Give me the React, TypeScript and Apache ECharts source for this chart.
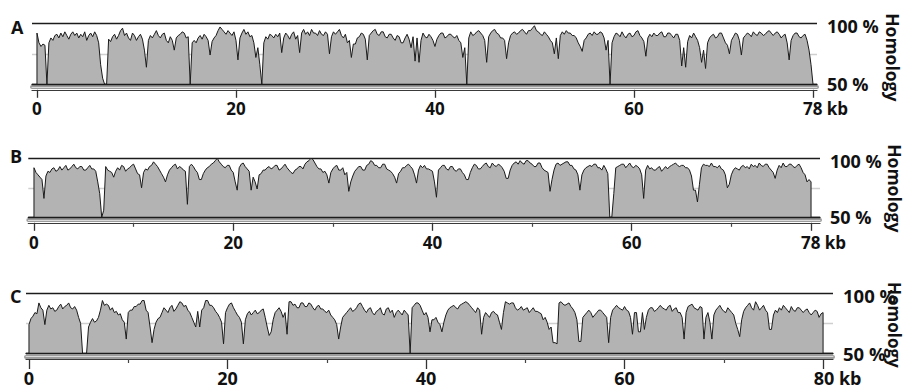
import React, { useEffect, useRef } from 'react';
import * as echarts from 'echarts';

// ---------- data ----------
const STEP_KB = 0.2;
const panelLetters = ['A', 'B', 'C'];
const genomeLengthKb = [78, 78, 80];
const majorTicksAB = [0, 20, 40, 60, 78];
const majorTicksC = [0, 20, 40, 60, 80];
const minorTicks = [10, 30, 50, 70];
const homologyTicks = [50, 100];
const yAxisTitle = 'Homology';

// % homology every 0.2 kb (one row = 2 kb)
const homologyA = [
  92, 84, 81, 83, 82, 50, 84, 88, 86, 90,
  91, 88, 92, 89, 93, 90, 87, 91, 93, 90,
  92, 88, 91, 89, 93, 86, 90, 92, 89, 93,
  90, 84, 66, 55, 50, 50, 87, 85, 89, 91,
  87, 90, 94, 96, 90, 92, 88, 86, 92, 90,
  86, 89, 91, 87, 78, 64, 86, 90, 88, 91,
  94, 90, 88, 91, 92, 86, 84, 89, 86, 78,
  88, 90, 91, 93, 92, 88, 89, 50, 84, 86,
  84, 88, 90, 87, 91, 89, 86, 74, 85, 88,
  90, 94, 97, 95, 93, 91, 94, 92, 90, 93,
  86, 70, 88, 92, 95, 91, 93, 89, 90, 84,
  72, 80, 66, 50, 84, 89, 87, 91, 90, 88,
  91, 89, 92, 76, 88, 92, 90, 87, 91, 93,
  87, 90, 76, 92, 95, 91, 93, 90, 95, 92,
  92, 90, 94, 91, 90, 93, 91, 75, 89, 93,
  91, 93, 95, 90, 88, 91, 84, 86, 72, 83,
  83, 88, 89, 92, 91, 87, 70, 90, 92, 94,
  95, 91, 90, 93, 93, 89, 88, 91, 91, 88,
  86, 90, 89, 84, 84, 88, 91, 87, 80, 89,
  69, 88, 68, 86, 92, 89, 88, 91, 89, 86,
  81, 87, 90, 92, 92, 88, 89, 91, 91, 89,
  88, 90, 86, 84, 72, 80, 50, 88, 93, 90,
  91, 93, 94, 92, 90, 86, 68, 89, 92, 94,
  95, 92, 91, 88, 88, 86, 71, 84, 90, 92,
  93, 91, 92, 94, 95, 93, 91, 94, 94, 96,
  98, 94, 93, 91, 90, 93, 91, 89, 86, 84,
  75, 88, 71, 90, 93, 91, 94, 92, 92, 90,
  90, 88, 84, 81, 77, 86, 88, 91, 92, 90,
  93, 91, 91, 93, 92, 88, 78, 86, 50, 84,
  89, 92, 91, 89, 93, 90, 88, 91, 92, 89,
  90, 93, 94, 90, 88, 85, 73, 88, 91, 89,
  92, 90, 90, 92, 93, 89, 89, 92, 92, 90,
  88, 91, 91, 86, 65, 80, 64, 85, 90, 88,
  92, 89, 86, 80, 68, 78, 63, 84, 88, 90,
  91, 88, 89, 92, 92, 88, 84, 82, 75, 86,
  89, 92, 91, 86, 74, 88, 90, 92, 91, 89,
  93, 91, 90, 93, 92, 90, 91, 93, 94, 92,
  90, 92, 93, 91, 88, 90, 91, 84, 70, 86,
  90, 92, 92, 89, 88, 90, 91, 86, 78, 66,
  50,
];

const homologyB = [
  92, 88, 86, 84, 82, 66, 85, 89, 88, 91,
  92, 89, 90, 93, 90, 92, 94, 90, 91, 93,
  95, 92, 91, 93, 93, 90, 90, 92, 94, 91,
  91, 89, 80, 70, 50, 56, 93, 90, 89, 88,
  84, 89, 92, 90, 94, 93, 89, 91, 92, 94,
  95, 91, 87, 86, 75, 88, 91, 90, 93, 94,
  97, 95, 93, 90, 87, 84, 80, 86, 90, 92,
  94, 95, 91, 93, 92, 90, 89, 61, 93, 95,
  93, 90, 88, 82, 82, 87, 90, 92, 93, 95,
  96, 98, 100, 97, 95, 93, 92, 94, 94, 90,
  88, 80, 73, 92, 95, 96, 93, 91, 89, 73,
  84, 80, 74, 86, 87, 90, 90, 92, 93, 91,
  92, 94, 94, 90, 91, 93, 95, 92, 90, 88,
  87, 90, 91, 93, 93, 91, 95, 97, 98, 100,
  99, 96, 93, 91, 91, 88, 89, 86, 79, 88,
  91, 93, 94, 90, 90, 92, 86, 88, 72, 80,
  85, 89, 91, 93, 93, 90, 90, 94, 95, 98,
  97, 94, 94, 92, 92, 95, 95, 91, 90, 89,
  87, 84, 79, 87, 89, 92, 92, 94, 95, 93,
  91, 86, 79, 90, 94, 92, 94, 91, 91, 90,
  89, 80, 67, 90, 92, 94, 94, 91, 90, 93,
  93, 90, 89, 91, 91, 88, 86, 82, 82, 88,
  92, 95, 94, 91, 91, 93, 95, 96, 93, 92,
  96, 94, 93, 95, 94, 92, 89, 83, 83, 90,
  94, 96, 97, 95, 98, 96, 95, 98, 98, 96,
  95, 93, 93, 96, 96, 92, 90, 89, 88, 72,
  82, 90, 95, 96, 94, 95, 96, 97, 97, 94,
  94, 91, 90, 86, 73, 86, 90, 92, 93, 94,
  93, 95, 95, 92, 92, 90, 94, 91, 87, 50,
  50, 70, 92, 93, 94, 95, 95, 92, 94, 96,
  93, 92, 94, 93, 91, 86, 66, 90, 94, 91,
  92, 90, 90, 92, 93, 89, 91, 93, 91, 93,
  94, 95, 96, 94, 93, 94, 94, 92, 92, 90,
  85, 73, 73, 63, 78, 92, 95, 94, 94, 93,
  96, 93, 93, 92, 94, 91, 90, 86, 75, 78,
  86, 90, 92, 91, 90, 93, 94, 92, 93, 91,
  95, 93, 94, 92, 96, 94, 93, 95, 95, 92,
  90, 88, 83, 90, 94, 92, 96, 93, 93, 95,
  95, 93, 92, 94, 95, 92, 88, 86, 80, 82,
  80,
];

const homologyC = [
  74, 79, 81, 84, 83, 92, 88, 86, 74, 86,
  90, 87, 88, 85, 86, 89, 91, 87, 89, 90,
  92, 88, 87, 89, 86, 80, 75, 50, 50, 50,
  72, 76, 79, 76, 77, 80, 86, 94, 90, 91,
  90, 86, 88, 84, 85, 82, 83, 78, 76, 62,
  84, 86, 86, 89, 89, 91, 91, 94, 94, 86,
  84, 72, 59, 70, 76, 79, 80, 84, 88, 86,
  84, 88, 90, 85, 87, 90, 93, 92, 89, 90,
  86, 84, 80, 76, 72, 85, 72, 86, 88, 94,
  94, 90, 90, 88, 85, 83, 80, 76, 58, 84,
  88, 91, 92, 88, 85, 82, 80, 76, 58, 78,
  83, 85, 82, 84, 86, 83, 84, 86, 87, 80,
  72, 65, 68, 78, 84, 86, 88, 85, 80, 84,
  66, 93, 93, 90, 91, 88, 88, 92, 92, 89,
  89, 92, 91, 88, 86, 89, 90, 87, 87, 85,
  84, 86, 82, 80, 78, 74, 62, 72, 80, 82,
  84, 86, 88, 85, 86, 88, 91, 92, 89, 86,
  84, 87, 88, 84, 82, 85, 86, 88, 83, 82,
  87, 88, 84, 86, 80, 84, 86, 84, 82, 86,
  84, 82, 50, 88, 90, 92, 92, 90, 86, 82,
  84, 80, 68, 78, 78, 80, 76, 74, 68, 76,
  82, 86, 88, 89, 90, 88, 87, 90, 91, 92,
  93, 92, 90, 88, 86, 84, 88, 86, 66, 80,
  84, 82, 80, 84, 85, 83, 82, 76, 70, 84,
  93, 92, 91, 92, 92, 88, 86, 87, 89, 86,
  87, 88, 84, 86, 88, 85, 85, 84, 83, 78,
  80, 76, 70, 72, 59, 59, 58, 92, 93, 91,
  90, 91, 92, 89, 87, 84, 78, 60, 60, 80,
  82, 84, 86, 84, 80, 82, 84, 86, 86, 84,
  82, 80, 59, 80, 86, 88, 90, 88, 87, 86,
  89, 86, 85, 80, 66, 84, 84, 68, 68, 84,
  70, 80, 86, 88, 88, 85, 86, 88, 90, 88,
  87, 86, 89, 90, 85, 87, 88, 84, 84, 80,
  62, 84, 89, 90, 91, 88, 87, 86, 89, 88,
  62, 80, 84, 76, 62, 82, 86, 88, 90, 87,
  85, 84, 88, 86, 84, 82, 75, 70, 64, 78,
  85, 88, 90, 92, 88, 86, 93, 90, 86, 88,
  90, 86, 84, 70, 70, 82, 86, 84, 88, 86,
  90, 88, 86, 84, 89, 86, 85, 88, 88, 86,
  84, 86, 87, 84, 82, 84, 86, 85, 80, 83,
  84,
];

// positions (kb) of unaligned gaps shown as white stripes
const gapsA: number[] = [];
const gapsB = [20.4];
const gapsC = [9.8, 12.4, 16.8, 17.2, 19.6, 21.6, 24.2, 24.4, 31.2, 40.4, 55.4, 58.4, 60.8, 66.0, 68.0, 68.8, 71.6];

// ---------- layout / style ----------
const FONT = 'Open Sans';
const layouts = [
  { left: 32, width: 785, top: 23.3, height: 61, min: -0.5, max: 78.4, letterLeft: 11, letterTop: 18, tickFont: 17, sideFont: 18, nameFont: 17.5, namePadLeft: 7, tickLen: 8, labelMargin: 10, nameGap: 67, kbPad: 25, minor: false },
  { left: 28.3, width: 791.7, top: 158.3, height: 59, min: -0.57, max: 78.9, letterLeft: 10, letterTop: 147, tickFont: 17, sideFont: 18, nameFont: 17.5, namePadLeft: 1, tickLen: 8, labelMargin: 11, nameGap: 66, kbPad: 25, minor: true },
  { left: 26, width: 807, top: 293.3, height: 60.2, min: -0.3, max: 81.0, letterLeft: 10, letterTop: 287, tickFont: 18, sideFont: 18.5, nameFont: 17, namePadLeft: 3, tickLen: 10, labelMargin: 10, nameGap: 53, kbPad: 29, minor: true },
];

const panels = [
  { values: homologyA, gaps: gapsA, ticks: majorTicksAB },
  { values: homologyB, gaps: gapsB, ticks: majorTicksAB },
  { values: homologyC, gaps: gapsC, ticks: majorTicksC },
];

function buildOption() {
  const grid: any[] = [];
  const xAxis: any[] = [];
  const yAxis: any[] = [];
  const series: any[] = [];
  const title: any[] = [];

  panels.forEach((p, g) => {
    const L = layouts[g];
    const len = genomeLengthKb[g];
    grid.push({
      left: L.left, top: L.top, width: L.width, height: L.height,
      containLabel: false, outerBoundsMode: 'none',
    });
    title.push({
      text: panelLetters[g], left: L.letterLeft, top: L.letterTop, padding: 0,
      textStyle: { fontFamily: FONT, fontWeight: 'bold', fontSize: 18, color: '#111' },
    });
    const base = {
      gridIndex: g, type: 'value', min: L.min, max: L.max, position: 'bottom',
      splitLine: { show: false }, axisLabel: { show: false }, axisTick: { show: false }, z: 5,
    };
    const xMain = xAxis.length;
    xAxis.push({
      ...base,
      offset: 5.5,
      axisLine: { show: true, lineStyle: { color: '#3a3a3a', width: 1.2 } },
      axisTick: { show: true, customValues: p.ticks, length: L.tickLen, lineStyle: { color: '#333', width: 1.3 } },
      axisLabel: {
        show: true, customValues: p.ticks, margin: L.labelMargin,
        fontFamily: FONT, fontWeight: 'bold', fontSize: L.tickFont, color: '#111',
        formatter: (v: number) => (v === len ? `{sp| }{kb|${v} kb}` : `${v}`),
        rich: {
          sp: { width: L.kbPad, fontSize: L.tickFont },
          kb: { fontFamily: FONT, fontWeight: 'bold', fontSize: L.tickFont, color: '#111' },
        },
      },
    });
    xAxis.push({
      ...base, offset: 5.5, axisLine: { show: false },
      axisTick: { show: L.minor, customValues: minorTicks, length: 4, lineStyle: { color: '#444', width: 1.2 } },
    });
    xAxis.push({ ...base, offset: 2.8, axisLine: { show: true, lineStyle: { color: '#9c9c9c', width: 4 } } });
    xAxis.push({ ...base, offset: 2.8, axisLine: { show: true, lineStyle: { color: '#dadada', width: 1 } } });
    xAxis.push({ ...base, offset: 0, axisLine: { show: true, lineStyle: { color: '#1c1c1c', width: 1.3 } } });

    yAxis.push({
      gridIndex: g, type: 'value', min: 50, max: 100, interval: 25, position: 'right',
      axisLine: { show: false }, axisTick: { show: false },
      splitLine: { show: true, lineStyle: { color: ['#1c1c1c', '#cfcfcf', '#1c1c1c'], width: 1.3 } },
      axisLabel: {
        customValues: homologyTicks, margin: 10,
        fontFamily: FONT, fontWeight: 'bold', fontSize: L.sideFont, color: '#111',
        formatter: (v: number) => (v === 100 ? `{hi|${v} %}` : `${v} %`),
        rich: { hi: { fontFamily: FONT, fontWeight: 'bold', fontSize: L.sideFont, color: '#111', padding: [5, 0, 0, 0] } },
      },
      name: yAxisTitle, nameLocation: 'middle', nameRotate: -90, nameGap: L.nameGap,
      nameMoveOverlap: false,
      nameTextStyle: {
        fontFamily: FONT, fontWeight: 'bold', fontSize: L.nameFont, color: '#111',
        padding: [0, 0, 0, L.namePadLeft],
      },
    });

    const pts: number[][] = [[0, 50]];
    p.values.forEach((v, i) => pts.push([+(i * STEP_KB).toFixed(1), v]));
    pts.push([len, 50]);

    series.push({
      type: 'line', xAxisIndex: xMain, yAxisIndex: g, data: pts, symbol: 'none', silent: true,
      lineStyle: { width: 0, opacity: 0 }, areaStyle: { origin: 'start', color: '#b3b3b3', opacity: 1 },
    });
    series.push({
      type: 'bar', xAxisIndex: xMain, yAxisIndex: g, barWidth: 2.5, silent: true,
      itemStyle: { color: '#ffffff' },
      data: p.gaps.map((kb) => [kb, p.values[Math.round(kb / STEP_KB)]]),
    });
    series.push({
      type: 'line', xAxisIndex: xMain, yAxisIndex: g, data: pts, symbol: 'none', silent: true,
      lineStyle: { color: '#1a1a1a', width: 1 },
    });
  });

  return {
    animation: false,
    backgroundColor: '#ffffff',
    textStyle: { fontFamily: FONT },
    title, grid, xAxis, yAxis, series,
  };
}

export default function App() {
  const ref = useRef<HTMLDivElement>(null);
  useEffect(() => {
    if (!ref.current) return;
    const chart = echarts.init(ref.current, undefined, { renderer: 'svg' });
    chart.setOption(buildOption() as any);
    return () => chart.dispose();
  }, []);
  return (
    <div
      ref={ref}
      style={{ position: 'fixed', left: 0, top: 0, width: 906, height: 389, background: '#fff' }}
    />
  );
}
